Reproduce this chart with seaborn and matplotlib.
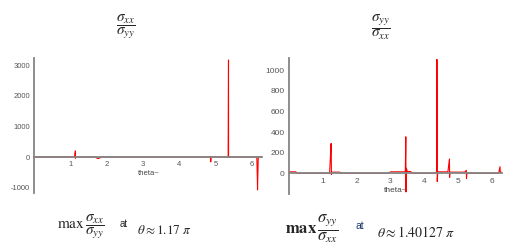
"""Maple-style spike plots of stress ratios sigma_xx/sigma_yy and sigma_yy/sigma_xx vs theta."""
import numpy as np
import pandas as pd
import matplotlib; matplotlib.use("Agg")
import matplotlib.pyplot as plt
from matplotlib.ticker import MultipleLocator
import seaborn as sns

# ── data ─────────────────────────────────────────────────────────────────────
left_theta = [0.0, 1.12, 1.14, 1.142, 1.15, 1.70, 1.75, 1.80, 1.85, 4.85, 4.865,
              4.87, 4.88, 5.35, 5.36, 5.362, 5.37, 6.14, 6.155, 6.16, 6.18, 6.2832]
left_ratio = [0, 5, 200, -40, 0, 0, -50, -40, 0, 0, 20,
              -160, 0, 0, 3180, -10, 0, 0, -720, -1080, 0, 0]

right_theta = [0.0, 0.2, 0.25, 1.2, 1.245, 1.25, 1.255, 1.27, 1.5, 1.55, 2.95, 3.0,
               3.44, 3.455, 3.46, 3.47, 3.5, 3.6, 3.65, 4.3, 4.37, 4.375, 4.38,
               4.385, 4.4, 4.7, 4.745, 4.75, 4.76, 5.2, 5.245, 5.25, 5.26, 6.2,
               6.24, 6.25, 6.2832]
right_ratio = [15, 15, 0, 0, 290, 170, -10, 12, 12, 0, 0, 15,
               15, 355, -180, 50, 18, 18, 0, 0, 15, 1105, 575,
               -80, 15, 15, 140, -40, 12, 12, 30, -50, 0, 0,
               65, 12, 12]

left_yticks = [-1000, 0, 1000, 2000, 3000]
right_yticks = [0, 200, 400, 600, 800, 1000]
xticks = [1, 2, 3, 4, 5, 6]

sns.set_style("white")
plt.rcParams["font.family"] = ["Liberation Sans", "DejaVu Sans"]
plt.rcParams["mathtext.fontset"] = "stix"
plt.rcParams["axes.unicode_minus"] = False

AXC = "#858585"


def maple_axes(ax, df, xlim, ylim, yticks, ymin_step, tick_fs):
    sns.lineplot(data=df, x="theta", y="ratio", sort=False, estimator=None,
                 color="#ff0000", lw=0.8, ax=ax, zorder=2)
    ax.set_xlim(*xlim); ax.set_ylim(*ylim)
    for s in ["top", "right"]:
        ax.spines[s].set_visible(False)
    ax.spines["bottom"].set_position(("data", 0))
    for s in ["bottom", "left"]:
        ax.spines[s].set_color(AXC); ax.spines[s].set_linewidth(1.3)
        ax.spines[s].set_zorder(3)
    ax.set_xticks(xticks); ax.set_yticks(yticks)
    ax.xaxis.set_minor_locator(MultipleLocator(0.2))
    ax.yaxis.set_minor_locator(MultipleLocator(ymin_step))
    ax.tick_params(which="major", direction="inout", length=4, width=0.7,
                   color=AXC, labelsize=tick_fs, labelcolor="#555555", pad=1)
    ax.tick_params(which="minor", direction="inout", length=2, width=0.6, color=AXC)
    ax.set_xlabel(""); ax.set_ylabel("")
    ax.annotate("theta~", xy=(3.17, 0), xytext=(0, -12), textcoords="offset points",
                ha="center", va="center", fontsize=tick_fs, color="#444444")


fig = plt.figure(figsize=(5.08, 2.46), dpi=100)
axL = fig.add_axes([34/508, 1-193/246, 228/508, 135/246])
axR = fig.add_axes([289/508, 1-194/246, 213/508, 136/246])

maple_axes(axL, pd.DataFrame({"theta": left_theta, "ratio": left_ratio}),
           (0, 6.2832), (-1180, 3245), left_yticks, 200, 5.5)
maple_axes(axR, pd.DataFrame({"theta": right_theta, "ratio": right_ratio}),
           (0, 6.3), (-200, 1119), right_yticks, 50, 6)

# titles
fig.text(126/508, 1-27/246, r"$\dfrac{\sigma_{xx}}{\sigma_{yy}}$", ha="center", va="center",
         fontsize=11)
fig.text(381/508, 1-27/246, r"$\dfrac{\sigma_{yy}}{\sigma_{xx}}$", ha="center", va="center",
         fontsize=11)

# bottom annotations
fig.text(57/508, 1-227/246, r"$\mathrm{max}\,\dfrac{\sigma_{xx}}{\sigma_{yy}}$",
         ha="left", va="center", fontsize=11)
fig.text(120/508, 1-224/246, "at", ha="left", va="center", fontsize=7)
fig.text(137/508, 1-231/246, r"$\theta\approx 1.17\ \pi$", ha="left", va="center", fontsize=9.5)

fig.text(285/508, 1-229/246, r"$\mathbf{max}\,\dfrac{\sigma_{yy}}{\sigma_{xx}}$",
         ha="left", va="center", fontsize=12)
fig.text(356/508, 1-226/246, "at", ha="left", va="center", fontsize=7.5, color="#1a3a6a")
fig.text(377/508, 1-233/246, r"$\theta\approx 1.40127\ \pi$", ha="left", va="center",
         fontsize=10)

fig.savefig("out.png", dpi=100)
